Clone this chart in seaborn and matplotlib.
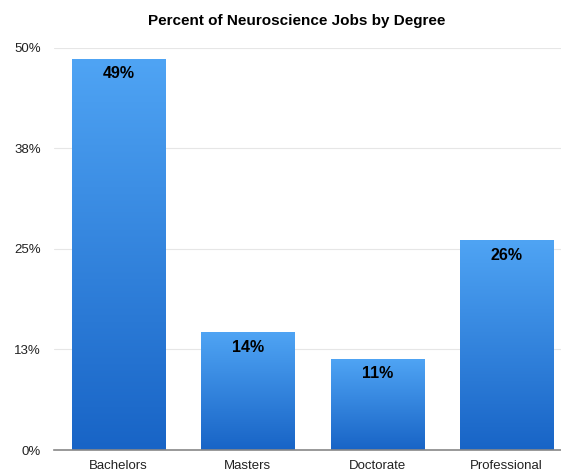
import matplotlib
matplotlib.use("Agg")
import matplotlib.pyplot as plt
import seaborn as sns
import numpy as np
import pandas as pd
from matplotlib.colors import LinearSegmentedColormap

categories = ["Bachelors", "Masters", "Doctorate", "Professional"]
values = [48.6, 14.6, 11.3, 26.0]
bar_labels = ["49%", "14%", "11%", "26%"]
yticks = [0, 12.5, 25, 37.5, 50]
ytick_labels = ["0%", "13%", "25%", "38%", "50%"]

sns.set_theme(style="white")
plt.rcParams['font.family'] = ['Liberation Sans', 'DejaVu Sans']

fig = plt.figure(figsize=(5.61, 4.69), dpi=100)
ax = fig.add_axes([0.0955, 0.0405, 0.923, 0.8572])

df = pd.DataFrame({"Degree": categories, "Percent": values})
sns.barplot(data=df, x="Degree", y="Percent", ax=ax, width=0.72, color="#3d8ee8", zorder=3)

cmap = LinearSegmentedColormap.from_list("g", ["#1864c6", "#4fa4f4"])
grad = np.linspace(0, 1, 256).reshape(-1, 1)
for p, lab in zip(ax.patches, bar_labels):
    x0, y0 = p.get_x(), p.get_y()
    w, h = p.get_width(), p.get_height()
    p.set_facecolor("none")
    p.set_edgecolor("none")
    ax.imshow(grad, cmap=cmap, origin="lower", aspect="auto",
              extent=[x0, x0 + w, y0, y0 + h], zorder=3)
    ax.text(x0 + w / 2, y0 + h - 0.9, lab, ha="center", va="top",
            fontsize=11.5, fontweight="bold", color="black", zorder=4)
ax.set_xlim(-0.5, 3.5)
ax.set_ylim(0, 50)

ax.set_yticks(yticks)
ax.set_yticklabels(ytick_labels, fontsize=9.5, color="#222222")
ax.yaxis.grid(True, color="#e6e6e6", linewidth=0.8, zorder=0)
ax.tick_params(axis="y", length=0, pad=9)
ax.tick_params(axis="x", length=0, pad=7, labelsize=9.5, labelcolor="#222222")
ax.set_xlabel("")
ax.set_ylabel("")
for s in ["top", "right", "left"]:
    ax.spines[s].set_visible(False)
ax.spines["bottom"].set_color("#888888")
ax.spines["bottom"].set_linewidth(1.2)
ax.spines["bottom"].set_zorder(5)

fig.text(0.5285, 0.955, "Percent of Neuroscience Jobs by Degree", ha="center", va="center",
         fontsize=11, fontweight="bold", color="black")

fig.savefig("out.png", dpi=100)
